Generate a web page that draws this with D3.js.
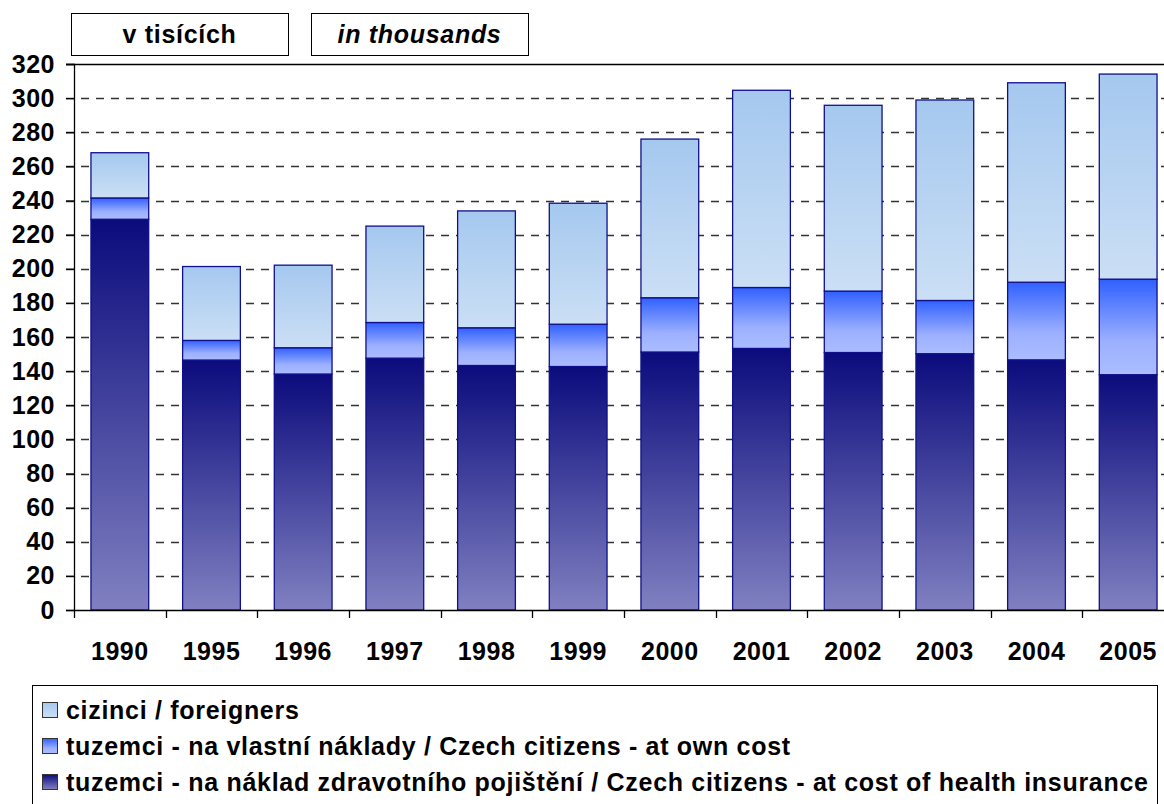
<!DOCTYPE html>
<html>
<head>
<meta charset="utf-8">
<script src="https://cdn.jsdelivr.net/npm/d3@7.9.0/dist/d3.min.js"></script>
<style>
  html, body { margin: 0; padding: 0; background: #fff; }
  svg { display: block; font-family: "Liberation Sans", Arial, sans-serif; font-weight: bold; }
</style>
</head>
<body>
<svg id="chart" width="1164" height="804"></svg>
<script>
// === Data (thousands) ===
const years = ['1990', '1995', '1996', '1997', '1998', '1999', '2000', '2001', '2002', '2003', '2004', '2005'];
const healthIns = [229, 146.5, 138.3, 147.6, 143.3, 142.7, 151.2, 153.3, 150.9, 150.2, 146.6, 137.9];
const ownCost = [12.5, 11.5, 15.4, 20.9, 22.1, 24.8, 31.8, 35.7, 36.0, 31.2, 45.5, 56.0];
const foreigners = [26.5, 43.3, 48.4, 56.5, 68.5, 70.9, 93.0, 115.6, 108.9, 117.5, 116.9, 120.2];
const yTicks = d3.range(0, 321, 20);

const seriesNames = [
  'cizinci / foreigners',
  'tuzemci - na vlastní náklady / Czech citizens - at own cost',
  'tuzemci - na náklad zdravotního pojištění / Czech citizens - at cost of health insurance'
];

const svg = d3.select('#chart');
const plotLeft = 74, plotRight = 1174, plotTop = 64, plotBottom = 610;
const FONT = '"Liberation Sans", Arial, sans-serif';

// gradients for the three series
const defs = svg.append('defs');
const grads = {
  health: [['0%', '#0b0b7d'], ['100%', '#8080c1']],
  own: [['0%', '#3060ff'], ['65%', '#9cb0ff'], ['100%', '#abbcff']],
  foreign: [['0%', '#a5c8ef'], ['100%', '#cbdff5']]
};
Object.entries(grads).forEach(([id, stops]) => {
  const g = defs.append('linearGradient').attr('id', 'g-' + id)
    .attr('x1', 0).attr('y1', 0).attr('x2', 0).attr('y2', 1);
  stops.forEach(([o, c]) => g.append('stop').attr('offset', o).attr('stop-color', c));
});

const x = d3.scaleBand().domain(years).range([plotLeft, plotRight])
  .paddingInner(0.37).paddingOuter(0.185);
const y = d3.scaleLinear().domain([0, 320]).range([plotBottom, plotTop]);

// gridlines
svg.append('g').selectAll('line').data(yTicks.filter(d => d > 0)).join('line')
  .attr('x1', plotLeft - 8).attr('x2', 1164)
  .attr('y1', d => Math.round(y(d)) + 0.5).attr('y2', d => Math.round(y(d)) + 0.5)
  .attr('stroke', d => d === 320 ? '#000' : '#333')
  .attr('stroke-width', 1.3)
  .attr('stroke-dasharray', d => d === 320 ? null : '8,7');

// stacked bars
const stacked = years.map((yr, i) => {
  const segs = [];
  let base = 0;
  [['health', healthIns[i]], ['own', ownCost[i]], ['foreign', foreigners[i]]].forEach(([k, v]) => {
    segs.push({ yr, key: k, y0: base, y1: base + v });
    base += v;
  });
  return segs;
}).flat();

svg.append('g').selectAll('rect').data(stacked).join('rect')
  .attr('x', d => x(d.yr))
  .attr('width', x.bandwidth())
  .attr('y', d => y(d.y1))
  .attr('height', d => y(d.y0) - y(d.y1))
  .attr('fill', d => `url(#g-${d.key})`)
  .attr('stroke', '#10108a')
  .attr('stroke-width', 1.3);

// y axis
const yAxis = svg.append('g').attr('transform', `translate(${plotLeft},0)`)
  .call(d3.axisLeft(y).tickValues(yTicks).tickSize(8).tickPadding(11));
yAxis.select('.domain').attr('stroke', '#000').attr('stroke-width', 1.3);
yAxis.selectAll('.tick line').attr('stroke', '#000').attr('stroke-width', 1.3);
yAxis.selectAll('.tick text').attr('font-size', 25).attr('font-weight', 'bold')
  .attr('letter-spacing', 0.5).attr('font-family', FONT).attr('fill', '#000');

// x axis
const xAxis = svg.append('g').attr('transform', `translate(0,${plotBottom})`)
  .call(d3.axisBottom(x).tickSize(0).tickPadding(32));
xAxis.select('.domain').attr('stroke', '#000').attr('stroke-width', 1.3);
xAxis.selectAll('.tick text').attr('font-size', 25).attr('font-weight', 'bold')
  .attr('letter-spacing', 0.5).attr('font-family', FONT).attr('fill', '#000');
// category separators
const step = x.step();
const bounds = years.map(d => x(d) - (step - x.bandwidth()) / 2);
svg.append('g').selectAll('line').data(bounds).join('line')
  .attr('x1', d => Math.round(d) + 0.5).attr('x2', d => Math.round(d) + 0.5)
  .attr('y1', plotBottom).attr('y2', plotBottom + 8)
  .attr('stroke', '#000').attr('stroke-width', 1.3);

// unit boxes
const units = [
  { text: 'v tisících', italic: false, x0: 71, x1: 288 },
  { text: 'in thousands', italic: true, x0: 311, x1: 528 }
];
const ub = svg.append('g').selectAll('g').data(units).join('g');
ub.append('rect')
  .attr('x', d => d.x0 + 0.5).attr('y', 13.5)
  .attr('width', d => d.x1 - d.x0).attr('height', 42)
  .attr('fill', '#fff').attr('stroke', '#000').attr('stroke-width', 1);
ub.append('text')
  .attr('x', d => (d.x0 + d.x1) / 2).attr('y', 43)
  .attr('text-anchor', 'middle').attr('font-size', 25).attr('letter-spacing', 0.7)
  .attr('font-style', d => d.italic ? 'italic' : 'normal')
  .text(d => d.text);

// legend
svg.append('rect').attr('x', 32.5).attr('y', 685.5)
  .attr('width', 1125).attr('height', 130)
  .attr('fill', '#fff').attr('stroke', '#000').attr('stroke-width', 1);
const legKeys = ['foreign', 'own', 'health'];
const leg = svg.append('g').selectAll('g').data(seriesNames).join('g')
  .attr('transform', (d, i) => `translate(42,${710 + i * 36})`);
leg.append('rect').attr('x', 0.5).attr('y', -7.5).attr('width', 15).attr('height', 15)
  .attr('fill', (d, i) => `url(#g-${legKeys[i]})`)
  .attr('stroke', '#333').attr('stroke-width', 1);
leg.append('text').attr('x', 24).attr('y', 9)
  .attr('font-size', 25).attr('letter-spacing', 0.7).text(d => d);
</script>
</body>
</html>
